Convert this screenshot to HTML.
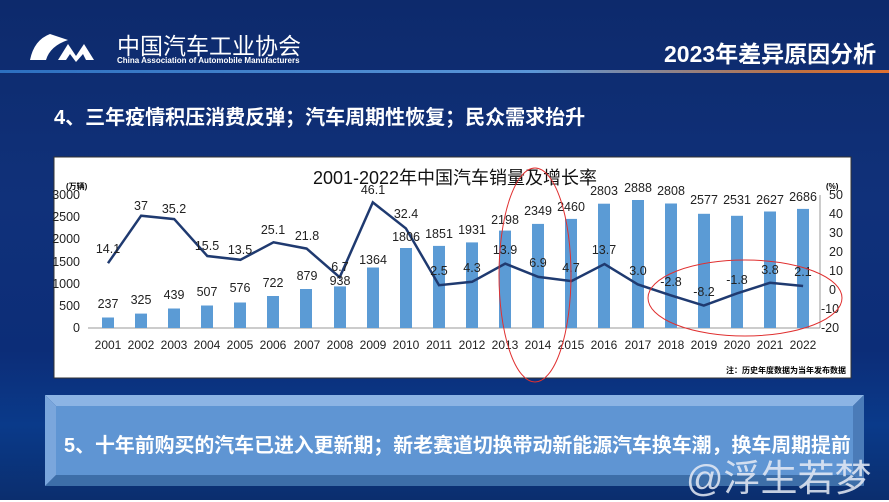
<!DOCTYPE html>
<html><head><meta charset="utf-8"><style>
body{margin:0;width:889px;height:500px;overflow:hidden;font-family:"Liberation Sans","Noto Sans CJK SC",sans-serif;}
#bg{position:absolute;left:0;top:0;width:889px;height:500px;background:linear-gradient(180deg,#0d2a6c 0%,#10317a 40%,#0c2d78 70%,#0a3a8a 85%,#0b2e6e 100%);}
.t{position:absolute;color:#fff;font-weight:bold;white-space:nowrap;}
</style></head><body>
<div id="bg"></div>
<div style="position:absolute;left:0;top:70px;width:889px;height:3px;background:linear-gradient(90deg,#2c6fc0,#5a96d8 60%,#c07040 90%,#e07030);"></div>
<svg style="position:absolute;left:28px;top:32px" width="82" height="32"><path d="M22 2 Q6 8 2 28 L18 28 Q22 14 40 8 Z" fill="#fff"/><path d="M30 28 L40 12 L48 24 L56 12 L66 28 L58 28 L55 22 L48 30 L42 22 L38 28 Z" fill="#fff"/></svg>
<div class="t" style="left:117px;top:27px;font-size:23px;font-weight:normal">中国汽车工业协会</div>
<div class="t" style="left:117px;top:56px;font-size:8px">China Association of Automobile Manufacturers</div>
<div class="t" style="left:664px;top:35px;font-size:23px">2023年差异原因分析</div>
<div class="t" style="left:54px;top:101px;font-size:20px">4、三年疫情积压消费反弹；汽车周期性恢复；民众需求抬升</div>
<svg style="position:absolute;left:0;top:0" width="889" height="500" font-family="Liberation Sans,Noto Sans CJK SC,sans-serif">
<rect x="54" y="157" width="797" height="221" fill="#fff" stroke="#333"/>
<text x="455" y="184" font-size="18" text-anchor="middle" fill="#111">2001-2022年中国汽车销量及增长率</text>
<g font-size="12.5" fill="#222" text-anchor="end">
<text x="80" y="332">0</text><text x="80" y="310">500</text><text x="80" y="288">1000</text><text x="80" y="266">1500</text><text x="80" y="243">2000</text><text x="80" y="221">2500</text><text x="80" y="199">3000</text>
</g>
<text x="66" y="189" font-size="8" font-weight="bold">(万辆)</text>
<text x="826" y="189" font-size="8" font-weight="bold">(%)</text>
<g font-size="12.5" fill="#222">
<text x="829" y="199">50</text><text x="829" y="218">40</text><text x="829" y="237">30</text><text x="829" y="256">20</text><text x="829" y="275">10</text><text x="829" y="294">0</text><text x="821" y="313">-10</text><text x="821" y="332">-20</text>
</g>
<line x1="88" y1="328" x2="820" y2="328" stroke="#999"/>
<line x1="820" y1="195" x2="820" y2="328" stroke="#999"/>
<g fill="#5b9bd5">
<rect x="102" y="317.5" width="12" height="10.5"/><rect x="135" y="313.6" width="12" height="14.4"/><rect x="168" y="308.5" width="12" height="19.5"/><rect x="201" y="305.5" width="12" height="22.5"/><rect x="234" y="302.5" width="12" height="25.5"/><rect x="267" y="296" width="12" height="32"/><rect x="300" y="289" width="12" height="39"/><rect x="334" y="286.4" width="12" height="41.6"/><rect x="367" y="267.5" width="12" height="60.5"/><rect x="400" y="248" width="12" height="80"/><rect x="433" y="245.9" width="12" height="82.1"/><rect x="466" y="242.4" width="12" height="85.6"/><rect x="499" y="230.6" width="12" height="97.4"/><rect x="532" y="223.9" width="12" height="104.1"/><rect x="565" y="218.9" width="12" height="109.1"/><rect x="598" y="203.7" width="12" height="124.3"/><rect x="632" y="200" width="12" height="128"/><rect x="665" y="203.5" width="12" height="124.5"/><rect x="698" y="213.8" width="12" height="114.2"/><rect x="731" y="215.8" width="12" height="112.2"/><rect x="764" y="211.5" width="12" height="116.5"/><rect x="797" y="208.9" width="12" height="119.1"/>
</g>
<polyline fill="none" stroke="#1f3a70" stroke-width="2.5" points="108,263.2 141.1,215.7 174.2,219.1 207.3,256 240.4,259.8 273.5,242.3 306.6,248.6 339.7,277.3 372.8,202.4 405.9,228.4 439,285.2 472.1,281.8 505.2,263.6 538.3,276.9 571.4,281.1 604.5,264 637.6,284.3 670.7,295.3 703.8,305.6 736.9,293.4 770,282.8 803.1,286"/>
<g font-size="12.5" fill="#222" text-anchor="middle">
<text x="108" y="308">237</text><text x="141" y="304">325</text><text x="174" y="299">439</text><text x="207" y="296">507</text><text x="240" y="292">576</text><text x="273" y="287">722</text><text x="307" y="280">879</text><text x="340" y="285">938</text><text x="373" y="264">1364</text><text x="406" y="241">1806</text><text x="439" y="238">1851</text><text x="472" y="234">1931</text><text x="505" y="224">2198</text><text x="538" y="215">2349</text><text x="571" y="211">2460</text><text x="604" y="195">2803</text><text x="638" y="192">2888</text><text x="671" y="195">2808</text><text x="704" y="204">2577</text><text x="737" y="204">2531</text><text x="770" y="204">2627</text><text x="803" y="201">2686</text>
<text x="108" y="253">14.1</text><text x="141" y="210">37</text><text x="174" y="213">35.2</text><text x="207" y="250">15.5</text><text x="240" y="254">13.5</text><text x="273" y="234">25.1</text><text x="307" y="240">21.8</text><text x="340" y="271">6.7</text><text x="373" y="194">46.1</text><text x="406" y="218">32.4</text><text x="439" y="275">2.5</text><text x="472" y="272">4.3</text><text x="505" y="254">13.9</text><text x="538" y="267">6.9</text><text x="571" y="272">4.7</text><text x="604" y="254">13.7</text><text x="638" y="275">3.0</text><text x="671" y="286">-2.8</text><text x="704" y="296">-8.2</text><text x="737" y="284">-1.8</text><text x="770" y="274">3.8</text><text x="803" y="276">2.1</text>
</g>
<g font-size="12" fill="#222" text-anchor="middle">
<text x="108" y="349">2001</text><text x="141" y="349">2002</text><text x="174" y="349">2003</text><text x="207" y="349">2004</text><text x="240" y="349">2005</text><text x="273" y="349">2006</text><text x="307" y="349">2007</text><text x="340" y="349">2008</text><text x="373" y="349">2009</text><text x="406" y="349">2010</text><text x="439" y="349">2011</text><text x="472" y="349">2012</text><text x="505" y="349">2013</text><text x="538" y="349">2014</text><text x="571" y="349">2015</text><text x="604" y="349">2016</text><text x="638" y="349">2017</text><text x="671" y="349">2018</text><text x="704" y="349">2019</text><text x="737" y="349">2020</text><text x="770" y="349">2021</text><text x="803" y="349">2022</text>
</g>
<text x="846" y="373" font-size="8" font-weight="bold" text-anchor="end">注：历史年度数据为当年发布数据</text>
<ellipse cx="535" cy="275" rx="36" ry="107" fill="none" stroke="#e03030" stroke-width="1"/>
<ellipse cx="745" cy="298" rx="97" ry="38" fill="none" stroke="#e03030" stroke-width="1"/>
<polygon points="45,395 864,395 853,406 56,406" fill="#8cb4e4"/>
<polygon points="45,486 864,486 853,475 56,475" fill="#3d6ea8"/>
<polygon points="45,395 56,406 56,475 45,486" fill="#7aa6dc"/>
<polygon points="864,395 853,406 853,475 864,486" fill="#4a7bb8"/>
<rect x="56" y="406" width="797" height="69" fill="#5f95d3"/>
</svg>
<div class="t" style="left:64px;top:429px;font-size:19.9px">5、十年前购买的汽车已进入更新期；新老赛道切换带动新能源汽车换车潮，换车周期提前</div>
<div class="t" style="left:686px;top:448px;font-size:37px;font-weight:normal;color:rgba(230,235,245,0.85)">@浮生若梦</div>
</body></html>
